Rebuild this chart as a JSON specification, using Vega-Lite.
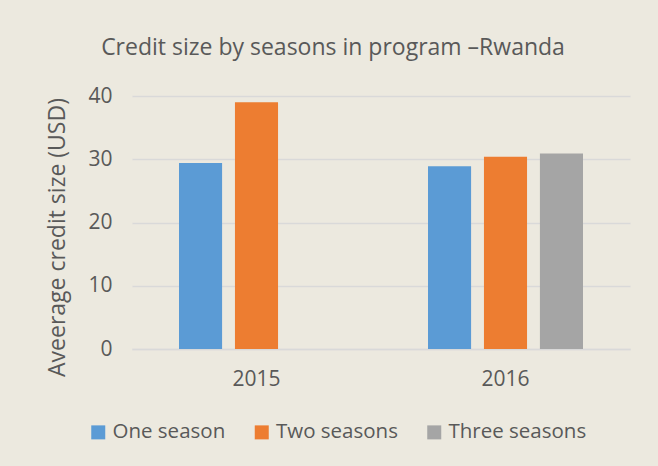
{
  "$schema": "https://vega.github.io/schema/vega-lite/v6.json",
  "width": 498,
  "height": 253,
  "autosize": {"type": "none"},
  "padding": {"left": 132, "top": 96, "right": 28, "bottom": 117},
  "background": "#ECE9DF",
  "title": {
    "text": "Credit size by seasons in program –Rwanda",
    "font": "Open Sans",
    "fontSize": 23,
    "fontWeight": "normal",
    "color": "#595959",
    "anchor": "middle",
    "frame": "group",
    "dx": -48,
    "offset": 25
  },
  "data": {
    "values": [
      {"year": "2015", "series": "One season", "value": 29.4},
      {"year": "2015", "series": "Two seasons", "value": 39.0},
      {"year": "2016", "series": "One season", "value": 28.9},
      {"year": "2016", "series": "Two seasons", "value": 30.4},
      {"year": "2016", "series": "Three seasons", "value": 30.9}
    ]
  },
  "mark": {"type": "bar"},
  "encoding": {
    "x": {
      "field": "year",
      "type": "nominal",
      "scale": {"paddingInner": 0, "paddingOuter": 0},
      "axis": {
        "title": null,
        "labelAngle": 0,
        "ticks": false,
        "domain": true,
        "domainColor": "#D9D9D9",
        "domainWidth": 1.5,
        "labelFont": "Open Sans",
        "labelFontSize": 21,
        "labelColor": "#595959",
        "labelPadding": 19
      }
    },
    "xOffset": {
      "field": "series",
      "type": "nominal",
      "scale": {
        "domain": ["One season", "Two seasons", "Three seasons"],
        "paddingInner": 0.23,
        "paddingOuter": 0.84
      }
    },
    "y": {
      "field": "value",
      "type": "quantitative",
      "scale": {"domain": [0, 40], "nice": false},
      "axis": {
        "title": "Aveerage credit size (USD)",
        "values": [0, 10, 20, 30, 40],
        "ticks": false,
        "domain": false,
        "gridColor": "#D9D9D9",
        "gridWidth": 1.5,
        "labelFont": "Open Sans",
        "labelFontSize": 21,
        "labelColor": "#595959",
        "labelPadding": 20,
        "titleFont": "Open Sans",
        "titleFontSize": 23,
        "titleFontWeight": "normal",
        "titleColor": "#595959",
        "titlePadding": 18,
        "titleY": 141
      }
    },
    "color": {
      "field": "series",
      "type": "nominal",
      "scale": {
        "domain": ["One season", "Two seasons", "Three seasons"],
        "range": ["#5B9BD5", "#ED7D31", "#A5A5A5"]
      },
      "legend": {
        "title": null,
        "orient": "none",
        "legendX": -44,
        "legendY": 326,
        "direction": "horizontal",
        "symbolType": "square",
        "symbolSize": 196,
        "symbolStrokeWidth": 0,
        "symbolOpacity": 1,
        "labelFont": "Open Sans",
        "labelFontSize": 20.5,
        "labelColor": "#595959",
        "labelOffset": 4,
        "columnPadding": 25.5
      }
    }
  },
  "config": {"view": {"stroke": null}}
}
